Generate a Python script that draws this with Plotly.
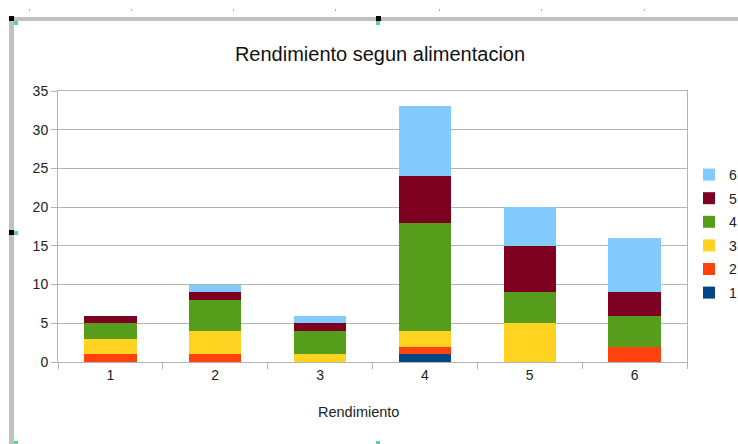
import plotly.graph_objects as go

categories = ["1", "2", "3", "4", "5", "6"]
series_names = ["1", "2", "3", "4", "5", "6"]
s1 = [0, 0, 0, 1, 0, 0]
s2 = [1, 1, 0, 1, 0, 2]
s3 = [2, 3, 1, 2, 5, 0]
s4 = [2, 4, 3, 14, 4, 4]
s5 = [1, 1, 1, 6, 6, 3]
s6 = [0, 1, 1, 9, 5, 7]
series_values = [s1, s2, s3, s4, s5, s6]
colors = ["#004586", "#ff420e", "#ffd320", "#579d1c", "#7e0021", "#83caff"]

W, H = 738, 444
L, R, T, B = 58, 687, 91, 362


def px(x):
    return (x - L) / (R - L)


def py(y):
    return (B - y) / (B - T)


fig = go.Figure()
for i, (name, vals, col) in enumerate(zip(series_names, series_values, colors)):
    fig.add_trace(go.Bar(
        x=categories, y=vals, name=name, legendgroup=name,
        legendrank=1000 - i,
        marker=dict(color=col, line=dict(width=0)),
        width=0.5,
    ))

shapes = []
# grey frame lines
shapes.append(dict(type="rect", xref="paper", yref="paper",
                   x0=px(9), x1=px(14), y0=py(444), y1=py(17),
                   fillcolor="#c0c0c0", line=dict(width=0), layer="above"))
shapes.append(dict(type="rect", xref="paper", yref="paper",
                   x0=px(9), x1=px(738), y0=py(21), y1=py(17),
                   fillcolor="#c0c0c0", line=dict(width=0), layer="above"))
# handles
for hx, hy in [(9, 16), (376, 16), (9, 230)]:
    shapes.append(dict(type="rect", xref="paper", yref="paper",
                       x0=px(hx), x1=px(hx + 5), y0=py(hy + 5), y1=py(hy),
                       fillcolor="#000000", line=dict(width=0), layer="above"))
for gx, gy in [(14, 21), (376, 21), (14, 231), (14, 441), (376, 441)]:
    shapes.append(dict(type="rect", xref="paper", yref="paper",
                       x0=px(gx), x1=px(gx + 4), y0=py(gy + 4), y1=py(gy),
                       fillcolor="#5fd38d", line=dict(width=0), layer="above"))
# ruler dots
for rx in [29, 131, 233, 335, 439, 541, 644]:
    shapes.append(dict(type="rect", xref="paper", yref="paper",
                       x0=px(rx), x1=px(rx + 1), y0=py(11), y1=py(9),
                       fillcolor="#b0b0b0", line=dict(width=0), layer="above"))

fig.update_layout(
    width=W, height=H,
    margin=dict(l=L, r=W - R, t=T, b=H - B, pad=0, autoexpand=False),
    barmode="stack",
    paper_bgcolor="white", plot_bgcolor="white",
    font=dict(family="Liberation Sans, Arial, sans-serif", size=13, color="#222222"),
    title=dict(text="Rendimiento segun alimentacion", x=px(380), xref="paper",
               xanchor="center", y=1 - 54 / H, yref="container", yanchor="middle",
               font=dict(size=20, color="#111111")),
    legend=dict(traceorder="grouped", x=px(689), xanchor="left", y=py(159),
                yanchor="top", font=dict(size=14, color="#222222"),
                itemwidth=30, tracegroupgap=2.4, bgcolor="rgba(0,0,0,0)"),
    shapes=shapes,
    annotations=[dict(text="Rendimiento", x=px(358), y=py(412), xref="paper",
                      yref="paper", showarrow=False, xanchor="center",
                      yanchor="middle", font=dict(size=14.5, color="#222222"))],
)
fig.update_xaxes(
    type="category", range=[-0.5, 5.5], tickson="boundaries",
    ticks="outside", ticklen=6, tickcolor="#b3b3b3",
    showline=True, linecolor="#b3b3b3", linewidth=1, mirror=True,
    showgrid=False, tickfont=dict(size=14), automargin=False,
)
fig.update_yaxes(
    range=[0, 35], dtick=5, ticks="outside", ticklen=6, tickcolor="#b3b3b3",
    showline=True, linecolor="#b3b3b3", linewidth=1, mirror=True,
    showgrid=True, gridcolor="#b3b3b3", gridwidth=1, zeroline=False,
    tickfont=dict(size=14), automargin=False,
)

fig.write_html("out.html", config={"displayModeBar": False},
               post_script="document.body.style.margin='0';")
